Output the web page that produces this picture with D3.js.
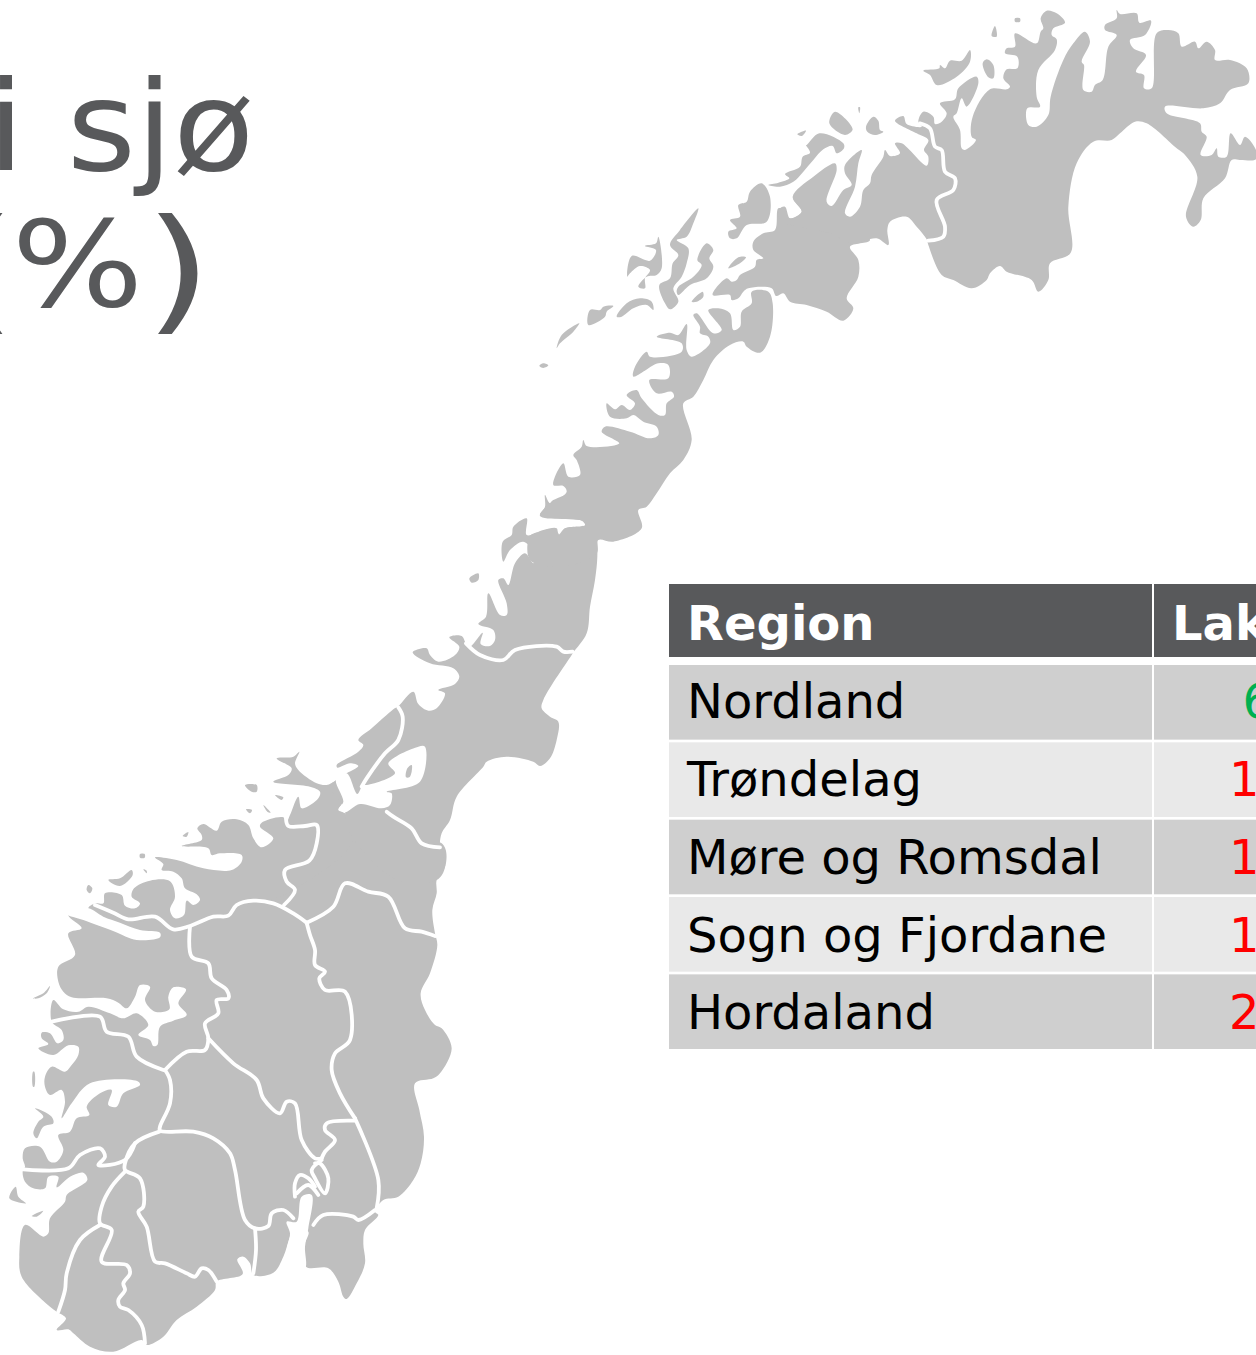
<!DOCTYPE html>
<html>
<head>
<meta charset="utf-8">
<script src="https://cdn.jsdelivr.net/npm/d3@7"></script>
<style>
  html, body { margin: 0; background: #fff; }
  svg { display: block; font-family: "DejaVu Sans", sans-serif; }
</style>
</head>
<body>
<div id="my_dataviz"></div>
<script>
// table content (the page cuts the table at the right edge)
var regions = ["Nordland", "Trøndelag", "Møre og Romsdal", "Sogn og Fjordane", "Hordaland"];
var valueLabels = ["6", "1", "1", "1", "2"];
var valueDigits = [1, 2, 2, 2, 2];
var valueColors = ["#00b050", "#ff0000", "#ff0000", "#ff0000", "#ff0000"];
var headers = ["Region", "Lak"];
var titleLines = ["i sjø", "(", "%", ")"];

// map outline, in five overlapping drawing sheets
var landSouth = [[760,30],[900,-20],[1325,-20],[1337,45],[1310,90],[1310,130],[1297,180],[1305,250],[1312,285],[1290,370],[1262,430],[1275,480],[1305,525],[1325,535],[1355,595],[1320,670],[1300,685],[1245,700],[1258,780],[1272,860],[1262,940],[1240,990],[1195,1040],[1150,1050],[1125,1085],[1135,1095],[1095,1140],[1090,1180],[1095,1240],[1070,1300],[1040,1347],[1030,1340],[1015,1295],[985,1255],[918,1250],[912,1190],[925,1145],[880,1140],[870,1160],[850,1220],[820,1268],[760,1275],[750,1240],[730,1220],[712,1228],[728,1272],[650,1295],[645,1320],[590,1370],[530,1410],[490,1460],[440,1485],[425,1470],[340,1505],[270,1490],[220,1450],[205,1438],[170,1440],[198,1405],[170,1385],[150,1370],[65,1280],[58,1220],[75,1125],[130,1160],[145,1150],[150,1105],[195,1055],[200,1035],[262,990],[250,968],[210,980],[170,1012],[175,980],[145,980],[135,1015],[100,1015],[75,995],[68,965],[75,950],[68,925],[75,895],[120,890],[150,935],[170,935],[190,900],[175,855],[210,845],[230,805],[268,795],[260,770],[300,730],[335,720],[325,765],[350,770],[370,730],[420,705],[415,695],[270,700],[215,760],[185,805],[195,755],[185,720],[150,735],[135,710],[135,680],[155,650],[195,665],[215,645],[235,615],[235,590],[205,586],[160,615],[115,595],[145,582],[125,565],[125,548],[150,550],[172,580],[190,570],[185,540],[155,515],[160,450],[190,478],[235,485],[265,470],[330,490],[370,505],[410,490],[445,525],[415,555],[450,570],[460,588],[472,585],[480,530],[520,512],[560,495],[535,460],[558,418],[520,412],[505,440],[508,478],[465,485],[435,450],[450,410],[420,405],[405,440],[380,475],[355,458],[320,445],[215,442],[190,425],[175,395],[175,350],[225,315],[205,250],[245,235],[205,195],[265,178],[300,195],[500,215],[540,210],[620,170],[700,110]];
var landMore = [[85,505],[105,490],[130,490],[135,460],[185,465],[195,497],[225,505],[240,490],[215,470],[222,445],[270,422],[330,424],[345,470],[330,510],[345,535],[372,525],[380,482],[400,495],[420,480],[410,463],[375,445],[365,415],[340,395],[305,390],[310,372],[285,352],[350,360],[430,385],[515,390],[545,365],[545,345],[480,340],[455,345],[445,325],[365,318],[425,300],[425,285],[412,265],[430,252],[470,272],[485,245],[530,238],[565,255],[580,295],[605,322],[640,295],[600,260],[605,248],[670,232],[678,250],[690,225],[715,170],[725,205],[775,175],[780,155],[750,140],[640,125],[685,105],[695,85],[650,55],[700,50],[718,35],[705,70],[715,90],[770,130],[800,135],[830,125],[848,185],[835,210],[855,220],[880,300],[700,450],[560,500],[420,545],[330,550],[110,525]];
var landTrondelag = [[0,860],[18,840],[50,820],[85,798],[60,790],[22,803],[20,795],[85,755],[100,735],[85,720],[125,685],[190,628],[205,618],[250,575],[265,612],[295,632],[320,625],[345,580],[325,570],[375,552],[388,530],[370,505],[300,490],[248,457],[290,445],[300,465],[325,485],[375,465],[388,440],[358,412],[395,408],[410,435],[420,440],[458,398],[452,432],[480,438],[495,420],[490,390],[445,372],[468,350],[475,280],[510,345],[530,345],[530,310],[505,240],[520,235],[535,255],[555,190],[585,160],[610,190],[612,160],[580,125],[540,150],[520,185],[518,125],[545,105],[550,80],[590,55],[590,105],[640,90],[680,85],[685,105],[705,85],[765,75],[755,62],[680,55],[630,45],[660,10],[670,0],[760,-20],[790,60],[800,110],[802,170],[795,240],[780,320],[770,400],[725,465],[640,600],[635,625],[660,650],[685,665],[680,720],[660,775],[630,798],[610,785],[530,770],[470,785],[460,800],[380,890],[360,960],[335,1000],[330,1040],[345,1100],[320,1140],[200,1140],[60,1000],[40,920]];
var landSaltfjell = [[0,1068],[30,1055],[75,1047],[90,1065],[105,1045],[165,1040],[165,1025],[30,1008],[45,980],[45,945],[60,970],[80,960],[110,935],[100,918],[70,915],[100,850],[115,890],[150,885],[140,840],[130,825],[155,800],[160,780],[170,798],[268,790],[215,755],[225,740],[300,755],[360,775],[385,765],[380,740],[340,725],[310,705],[290,715],[240,710],[230,670],[255,688],[275,675],[300,690],[315,670],[290,645],[320,630],[335,655],[385,705],[405,705],[410,670],[432,650],[425,635],[380,640],[358,600],[415,595],[415,555],[385,550],[310,590],[315,560],[350,515],[360,530],[455,515],[455,490],[380,470],[420,458],[445,465],[470,432],[470,510],[485,530],[540,490],[535,470],[510,460],[510,440],[490,405],[500,400],[550,460],[575,450],[535,390],[565,385],[600,400],[610,450],[630,440],[635,395],[665,370],[665,335],[715,335],[728,370],[720,470],[690,518],[650,500],[640,485],[600,495],[550,540],[520,600],[490,650],[460,670],[485,780],[460,840],[420,880],[380,940],[350,980],[325,990],[335,1045],[250,1085],[205,1080],[200,1120],[100,1160],[0,1140]];
var landOfoten = [[548,345],[590,295],[605,305],[620,300],[630,285],[675,260],[680,240],[700,235],[670,210],[670,185],[700,160],[735,150],[745,85],[765,90],[775,115],[815,95],[790,55],[850,70],[1020,180],[960,200],[985,240],[985,290],[950,355],[970,385],[940,422],[890,395],[830,375],[780,365],[760,340],[738,348],[725,325],[655,325],[640,335],[625,355],[605,360],[600,345]];
var landFinnmark = [[0,625],[15,620],[30,655],[65,635],[38,590],[100,530],[165,490],[170,510],[140,605],[155,618],[190,570],[215,555],[195,520],[195,495],[245,450],[235,490],[225,560],[195,640],[210,650],[240,620],[250,570],[270,550],[275,525],[310,470],[315,450],[330,468],[360,460],[345,430],[365,430],[440,497],[445,470],[432,450],[445,420],[410,400],[345,362],[370,348],[380,372],[425,380],[415,365],[430,335],[460,350],[465,372],[485,365],[500,340],[480,310],[525,298],[535,265],[590,230],[595,250],[560,320],[545,295],[530,340],[520,350],[540,390],[545,445],[555,450],[588,420],[575,410],[578,350],[630,268],[680,268],[690,260],[670,235],[680,208],[712,205],[712,170],[675,160],[680,145],[705,140],[705,100],[770,130],[782,95],[790,85],[782,55],[800,32],[830,40],[855,68],[820,85],[815,105],[830,118],[825,150],[775,210],[770,290],[780,320],[742,325],[745,375],[770,380],[805,345],[812,290],[850,180],[880,130],[915,95],[930,125],[905,185],[912,195],[910,270],[935,275],[945,255],[968,240],[985,140],[1010,105],[975,90],[975,75],[1010,55],[1010,30],[1020,42],[1070,40],[1078,68],[1113,62],[1095,105],[1050,120],[1060,145],[1098,165],[1068,215],[1092,225],[1092,265],[1115,265],[1130,100],[1165,90],[1195,100],[1205,140],[1245,125],[1255,145],[1280,125],[1305,150],[1305,180],[1350,180],[1400,205],[1405,250],[1350,270],[1320,310],[1270,325],[1155,320],[1160,340],[1260,370],[1265,395],[1280,410],[1262,465],[1295,465],[1310,445],[1315,470],[1340,470],[1352,400],[1380,435],[1395,410],[1428,450],[1428,478],[1380,480],[1355,480],[1335,535],[1270,595],[1262,660],[1240,680],[1218,650],[1252,530],[1215,465],[1190,445],[1100,370],[1065,365],[1020,400],[995,420],[940,425],[890,490],[865,620],[872,758],[810,790],[805,840],[775,875],[755,840],[680,815],[660,798],[630,820],[620,840],[575,865],[520,840],[485,825],[445,735],[440,718],[410,680],[380,650],[330,665],[322,690],[325,735],[290,715],[215,730],[150,700],[0,660]];

// white water cut back into the land
var waterTrondheim = [[18,838],[40,905],[28,925],[42,938],[90,912],[155,925],[180,915],[185,880],[170,875],[270,845],[285,740],[265,740],[175,790],[195,820],[105,855],[100,850],[82,882],[50,820]];
var waterNordfjord = [[20,510],[85,505],[130,530],[180,548],[240,570],[300,578],[300,592],[230,600],[165,575],[70,540],[20,522]];
var waterOslofjord = [[905,1040],[935,1035],[925,1135],[915,1190],[915,1255],[880,1255],[860,1210],[870,1150],[860,1115],[890,1115]];

// islands per sheet
var islandsSouth = [[[28,1045],[47,1010],[55,1040],[78,1060]],[[95,1098],[130,1082],[110,1100]],[[105,775],[155,800],[160,820],[130,830],[110,865],[100,850],[115,815],[130,800]],[[99,665],[103,665],[103,710],[99,710]],[[100,445],[130,430],[150,408],[140,430],[115,445]]];
var islandsMore = [[[85,435],[97,445],[90,460],[80,450]],[[145,420],[180,415],[215,390],[218,405],[180,438]],[[240,342],[254,342],[254,353],[240,353]],[[250,388],[260,392],[260,400]],[[368,288],[385,276],[380,290]],[[555,135],[590,135],[590,155],[575,155]],[[645,165],[670,172],[665,180]],[[610,195],[632,218],[622,215]],[[558,208],[576,210],[570,220]]];
var islandsTrondelag = [[[418,235],[445,220],[445,240],[425,248]],[[228,832],[232,805],[245,795],[245,815],[238,832]]];
var islandsSaltfjell = [[[28,557],[40,550],[55,556],[40,564]],[[80,505],[95,465],[148,430],[130,455],[90,490]],[[175,435],[180,390],[210,390],[220,380],[250,378],[230,395],[225,410]],[[260,410],[290,370],[330,355],[365,365],[370,390],[350,375],[310,385],[275,410]],[[292,290],[305,228],[360,242],[378,210],[345,198],[378,190],[385,170],[395,265],[380,285],[350,290],[325,320],[345,325],[345,295],[360,270],[330,258],[300,280]],[[388,315],[420,295],[428,250],[445,225],[420,195],[450,150],[505,85],[490,130],[470,170],[440,180],[475,205],[470,250],[455,290],[430,325],[445,365],[420,388],[405,370]],[[445,320],[490,290],[515,255],[502,240],[530,190],[550,210],[538,235],[550,260],[530,295],[480,315],[445,345],[440,335]],[[485,365],[518,335],[520,350],[500,365]],[[595,265],[625,232],[648,232],[630,250]],[[600,175],[595,155],[620,145],[600,120],[630,110],[625,75],[650,65],[660,35],[695,10],[720,50],[710,125],[650,135],[620,175]]];
var islandsFinnmark = [[[645,78],[635,108],[650,110]],[[705,55],[720,55],[720,65],[705,65]],[[608,190],[620,178],[640,195],[640,235],[625,232]],[[430,212],[478,205],[480,195],[495,205],[510,182],[545,182],[570,150],[570,185],[530,230],[470,255],[450,225]],[[258,380],[280,350],[295,362],[300,390],[310,395],[285,405],[262,395]],[[235,322],[240,322],[238,340]],[[148,370],[165,335],[218,388],[195,405]],[[52,403],[78,392],[65,408]],[[80,435],[118,400],[190,430],[192,445],[170,460],[158,438],[130,448],[100,480],[70,515],[40,545],[0,560],[-35,555],[-5,548],[28,535],[15,522],[60,500],[68,470],[90,458],[78,435]]];
// small island off the Varanger coast
var lakesFinnmark = [[[1303,400],[1323,400],[1323,415],[1303,415]]];

// county borders, drawn white on the land
var bordersSouth = [
  [[285,165],[340,188],[385,208],[465,200],[520,238],[570,228],[640,200],[685,197],[710,165],[760,152],[820,160],[880,190],[920,218]],
  [[570,230],[575,320],[625,340],[635,385],[680,420],[685,445],[650,450],[655,490],[615,520],[625,565],[615,600],[560,605],[495,660]],
  [[920,218],[1000,170],[1035,100],[1105,125],[1165,140],[1215,235],[1265,245],[1305,258]],
  [[920,218],[930,255],[945,300],[945,345],[975,365],[958,385],[975,420],[1035,425],[1050,570],[1005,610],[995,660],[1020,730],[1065,805]],
  [[1065,812],[980,820],[975,840],[1005,870],[975,905],[965,925]],
  [[1065,805],[1135,990],[1130,1075]],
  [[625,565],[700,640],[770,690],[790,745],[840,790],[860,755],[885,760],[905,870],[945,925],[965,925]],
  [[495,660],[510,690],[510,760],[480,830],[480,842],[580,845],[640,865],[690,910],[705,960],[735,1110],[765,1135],[805,1128],[815,1090],[850,1080],[880,1105]],
  [[765,1135],[768,1200],[760,1270]],
  [[478,845],[405,880],[375,940],[375,960],[420,985],[430,1070],[415,1085],[440,1130],[465,1235],[495,1240],[560,1270],[585,1280],[605,1255],[625,1260],[650,1295]],
  [[375,965],[335,1010],[305,1070],[300,1120],[335,1140],[305,1235],[380,1245],[390,1270],[370,1300],[375,1320],[355,1350],[360,1370],[385,1380],[425,1425],[435,1480]],
  [[300,1125],[240,1170],[200,1270],[195,1320],[175,1385]],
  [[70,958],[205,955],[240,915],[300,895],[315,920],[295,945],[375,930],[405,880]],
  [[155,515],[300,500],[320,545],[385,560],[410,620],[490,660]],
  [[965,930],[935,960],[945,985],[975,1030],[985,985],[960,940],[945,940]],
  [[885,1040],[885,1000],[900,975],[925,985],[945,1010]],
  [[890,1030],[925,1005],[955,1035]],
  [[940,1125],[970,1095],[1060,1100],[1075,1110],[1125,1080]]
];
var bordersMore = [
  [[678,235],[685,258],[735,258],[770,255],[770,310],[748,362],[675,390],[680,425],[705,450],[672,495]]
];
var bordersTrondelag = [
  [[205,622],[218,650],[205,720],[165,760],[110,835],[95,860]],
  [[408,430],[450,465],[520,480],[555,450],[680,440],[700,455],[728,455]],
  [[170,935],[190,950],[245,985],[275,1030],[330,1042]]
];
var bordersFinnmark = [
  [[420,370],[450,385],[465,440],[485,450],[495,515],[525,535],[520,570],[470,600],[495,680],[490,710],[445,722]]
];

var width = 1256, height = 1355;
var ink = "#58595b", landColor = "#bfbfbf";

var svg = d3.select("#my_dataviz")
  .append("svg")
    .attr("width", width)
    .attr("height", height);

// each traced sheet is three times the size of the page
function sheet(left, top) {
  var x = d3.scaleLinear().domain([0, 3]).range([left, left + 1]);
  var y = d3.scaleLinear().domain([0, 3]).range([top, top + 1]);
  return {
    closed: d3.line().x(function(d) { return x(d[0]); }).y(function(d) { return y(d[1]); }).curve(d3.curveCatmullRomClosed.alpha(0.5)),
    open: d3.line().x(function(d) { return x(d[0]); }).y(function(d) { return y(d[1]); }).curve(d3.curveCatmullRom.alpha(0.5))
  };
}
var south = sheet(0, 850), more = sheet(60, 740), trond = sheet(330, 500), salt = sheet(530, 180), finn = sheet(780, 0);

var map = svg.append("g");

function fillShapes(shapes, s, color) {
  map.append("g").selectAll("path")
    .data(shapes)
    .enter()
    .append("path")
      .attr("d", s.closed)
      .attr("fill", color);
}
function strokeShapes(shapes, s) {
  map.append("g").selectAll("path")
    .data(shapes)
    .enter()
    .append("path")
      .attr("d", s.open)
      .attr("fill", "none")
      .attr("stroke", "#fff")
      .attr("stroke-width", 3.8)
      .attr("stroke-linecap", "round")
      .attr("stroke-linejoin", "round");
}

fillShapes([landSouth], south, landColor);
fillShapes([landMore], more, landColor);
fillShapes([landTrondelag], trond, landColor);
fillShapes([landSaltfjell], salt, landColor);
fillShapes([landOfoten], salt, landColor);
fillShapes([landFinnmark], finn, landColor);

fillShapes([waterTrondheim], trond, "#fff");
fillShapes([waterNordfjord], more, "#fff");
fillShapes([waterOslofjord], south, "#fff");
fillShapes(lakesFinnmark, finn, "#fff");

fillShapes(islandsSouth, south, landColor);
fillShapes(islandsMore, more, landColor);
fillShapes(islandsTrondelag, trond, landColor);
fillShapes(islandsSaltfjell, salt, landColor);
fillShapes(islandsFinnmark, finn, landColor);

strokeShapes(bordersSouth, south);
strokeShapes(bordersMore, more);
strokeShapes(bordersTrondelag, trond);
strokeShapes(bordersFinnmark, finn);

// title, cut by the left edge of the page; the glyphs sit wider than DejaVu draws them
var titleX = [-12.5, -52, 11.4, 144];
var titleY = [170, 316, 306, 316];
var titleSize = [125, 135, 120, 135];
var titleLen = [267, 68.5, 132, 68.5];
svg.selectAll(".title")
  .data(titleLines)
  .enter()
  .append("text")
    .attr("class", "title")
    .attr("x", function(d, i) { return titleX[i]; })
    .attr("y", function(d, i) { return titleY[i]; })
    .attr("textLength", function(d, i) { return titleLen[i]; })
    .attr("lengthAdjust", "spacingAndGlyphs")
    .attr("fill", ink)
    .style("font-size", function(d, i) { return titleSize[i] + "px"; })
    .text(function(d) { return d; });

// table
var colX = [669, 1154], colW = [483, 110];
var fontSize = 48;
var y = d3.scaleBand().domain(regions).range([665, 1049]).paddingInner(0.035);

svg.selectAll(".head")
  .data(headers)
  .enter()
  .append("rect")
    .attr("x", function(d, i) { return colX[i]; })
    .attr("y", 584)
    .attr("width", function(d, i) { return colW[i]; })
    .attr("height", 73)
    .attr("fill", ink);

svg.selectAll(".headtext")
  .data(headers)
  .enter()
  .append("text")
    .attr("x", function(d, i) { return colX[i] + 18; })
    .attr("y", 640)
    .attr("fill", "#fff")
    .style("font-size", fontSize + "px")
    .style("font-weight", "bold")
    .text(function(d) { return d; });

var rows = svg.selectAll(".row")
  .data(regions)
  .enter()
  .append("g")
    .attr("transform", function(d) { return "translate(0," + y(d) + ")"; });

colX.forEach(function(cx, c) {
  rows.append("rect")
    .attr("x", cx)
    .attr("width", colW[c])
    .attr("height", y.bandwidth())
    .attr("fill", function(d, i) { return i % 2 == 0 ? "#cfcfcf" : "#e9e9e9"; });
});

rows.append("text")
  .attr("x", 687)
  .attr("y", function(d, i) { return 53 + i * 0.5; })
  .attr("fill", "#000")
  .style("font-size", fontSize + "px")
  .text(function(d) { return d; });

// the values are centred in a column that runs past the page, so only the first digit shows
var digitWidth = fontSize * 0.5625;
rows.append("text")
  .attr("x", function(d, i) { return 1256 - valueDigits[i] * digitWidth / 2; })
  .attr("y", function(d, i) { return 53 + i * 0.5; })
  .attr("fill", function(d, i) { return valueColors[i]; })
  .style("font-size", fontSize + "px")
  .text(function(d, i) { return valueLabels[i]; });
</script>
</body>
</html>
